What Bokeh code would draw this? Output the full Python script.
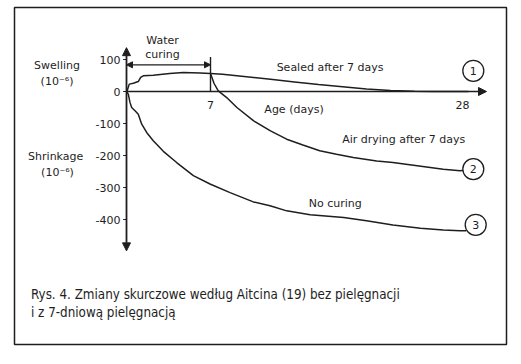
from bokeh.plotting import figure
from bokeh.models import Range1d, Arrow, NormalHead, ColumnDataSource
from bokeh.core.properties import value
from bokeh.embed import file_html
from bokeh.resources import INLINE

# ---- data ----
curing_day = [0, 0.07, 0.23, 0.57, 0.98, 1.18, 1.4, 2.23, 3.6, 4.73, 6.13, 7.0]
curing_strain = [0, 4, 23, 26, 31, 44, 49, 51, 56, 59, 58, 56]

sealed_day = [7, 8, 10, 12, 14, 16, 18, 20, 22, 24, 25.5, 28.5]
sealed_strain = [56, 54, 46, 38, 30, 22, 15, 8, 3, 1, 0, 0]

air_day = [7, 7.3, 7.6, 7.8, 8.35, 9.2, 10.6, 12, 13.35, 14.7, 16.1, 17.5,
           18.9, 20.85, 22.2, 23.6, 25, 26.4, 27.8, 28.1]
air_strain = [56, 25, 5, -3, -19, -50, -92, -123, -149, -167, -185, -196,
              -206, -217, -222, -229, -236, -243, -248, -246]

nocure_day = [0, 0.15, 0.29, 0.43, 0.71, 0.98, 1.27, 1.68, 2.23, 3.07, 4.18,
              5.57, 6.96, 8.63, 10.57, 11.96, 13.35, 15.3, 18.1, 20, 22.2,
              24.5, 26.4, 27.8, 28.3]
nocure_strain = [0, -8, -34, -50, -60, -71, -102, -128, -154, -187, -222,
                 -263, -289, -316, -345, -357, -373, -385, -394, -404, -417,
                 -427, -433, -435, -435]

y_ticks = [100, 0, -100, -200, -300, -400]
y_tick_labels = ["100", "0", "-100", "-200", "-300", "-400"]
x_ticks = [7, 28]
x_tick_labels = ["7", "28"]
curve_ids = ["1", "2", "3"]
curing_end = 7

INK = "#1e1e1e"
FONT = value("DejaVu Sans")

p = figure(width=516, height=352,
           x_range=Range1d(-9.3333, 31.6667), y_range=Range1d(-790.625, 262.5),
           output_backend="svg", toolbar_location=None,
           x_axis_type=None, y_axis_type=None,
           min_border_left=14, min_border_right=10, min_border_top=7, min_border_bottom=8)
p.grid.visible = False
p.outline_line_color = INK
p.outline_line_width = 1.5
p.background_fill_color = "white"
p.border_fill_color = "white"

# axes (arrows crossing at origin)
p.add_layout(Arrow(start=NormalHead(size=8, fill_color=INK, line_color=INK),
                   end=NormalHead(size=8, fill_color=INK, line_color=INK),
                   x_start=0, y_start=-498, x_end=0, y_end=137,
                   line_color=INK, line_width=1.8))
p.add_layout(Arrow(end=NormalHead(size=8, fill_color=INK, line_color=INK),
                   x_start=0, y_start=0, x_end=30, y_end=0,
                   line_color=INK, line_width=1.4))

# y tick marks and labels
p.segment(x0=[-0.28] * len(y_ticks), y0=y_ticks, x1=[0] * len(y_ticks), y1=y_ticks,
          line_color=INK, line_width=1.2)
p.text(x=[-0.5] * len(y_ticks), y=y_ticks, text=y_tick_labels,
       text_align="right", text_baseline="middle", text_font=FONT,
       text_font_size="11px", text_color=INK)
p.text(x=x_ticks, y=[-42] * len(x_ticks), text=x_tick_labels,
       text_align="center", text_baseline="middle", text_font=FONT,
       text_font_size="11px", text_color=INK)

# water-curing bracket
p.segment(x0=[curing_end], y0=[0], x1=[curing_end], y1=[108], line_color=INK, line_width=1.4)
p.add_layout(Arrow(start=NormalHead(size=6, fill_color=INK, line_color=INK),
                   end=NormalHead(size=6, fill_color=INK, line_color=INK),
                   x_start=0, y_start=83.4, x_end=curing_end, y_end=83.4,
                   line_color=INK, line_width=1.2))
p.text(x=[3, 3], y=[158, 115], text=["Water", "curing"], text_align="center",
       text_baseline="middle", text_font=FONT, text_font_size="11px", text_color=INK)

# curves
lw = 1.5
p.line(curing_day, curing_strain, line_color=INK, line_width=lw)
p.line(sealed_day, sealed_strain, line_color=INK, line_width=lw)
p.line(air_day, air_strain, line_color=INK, line_width=lw)
p.line(nocure_day, nocure_strain, line_color=INK, line_width=lw)

# curve labels
p.text(x=[16.96, 23.1, 17.4, 13.96], y=[74, -151, -351, -57],
       text=["Sealed after 7 days", "Air drying after 7 days", "No curing", "Age (days)"],
       text_align="center", text_baseline="middle", text_font=FONT,
       text_font_size="11px", text_color=INK)

# numbered circles
circ = ColumnDataSource(dict(x=[28.9, 28.9, 29.1], y=[64.7, -242.5, -416.6], t=curve_ids))
p.scatter("x", "y", source=circ, size=21, fill_color="white", line_color=INK, line_width=1.3)
p.text("x", "y", text="t", source=circ, text_align="center", text_baseline="middle",
       text_font=FONT, text_font_size="11px", text_color=INK)

# left-hand labels
p.text(x=[-5.79, -5.79], y=[80, 30], text=["Swelling", "(10⁻⁶)"], text_align="center",
       text_baseline="middle", text_font=FONT, text_font_size="11px", text_color=INK)
p.text(x=[-5.9, -5.75], y=[-204, -254], text=["Shrinkage", "(10⁻⁶)"], text_align="center",
       text_baseline="middle", text_font=FONT, text_font_size="11px", text_color=INK)

# caption
p.text(x=[-7.96, -7.96], y=[-635, -692],
       text=["Rys. 4. Zmiany skurczowe według Aitcina (19) bez pielęgnacji",
             "i z 7-dniową pielęgnacją"],
       text_align="left", text_baseline="middle",
       text_font=value("DejaVu Sans Condensed"),
       text_font_size="13.3px", text_color=INK)

open("out.html", "w").write(file_html(p, INLINE))
